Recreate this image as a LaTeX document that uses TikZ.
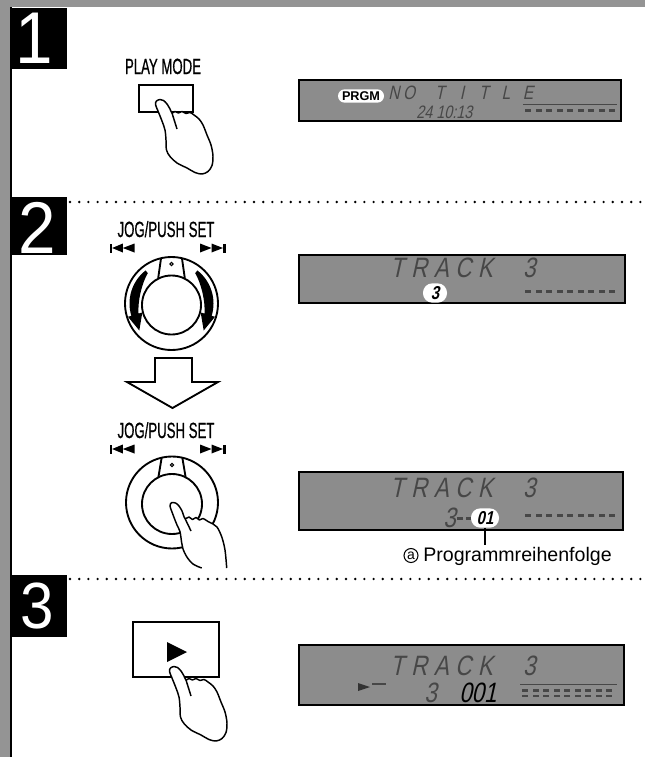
\documentclass[tikz,border=0pt]{standalone}
\usepackage{fontspec}
\setmainfont{Liberation Sans}
\newfontfamily\condfont{Liberation Sans}[FakeStretch=0.6,FakeBold=0.6]
\newfontfamily\numfont{Liberation Sans}[FakeStretch=0.92]
\newfontfamily\lcdfont{Liberation Sans}[FakeStretch=0.8,FakeSlant=0.22]
\usetikzlibrary{calc}

% fixed-width character cell for the LCD read-outs
\newlength\lcdw
\setlength\lcdw{16.5pt}
\newcommand\lc[1]{\makebox[\lcdw][c]{#1}}
\newcommand\lcn[1]{\makebox[11.5pt][c]{#1}}

\begin{document}
\begin{tikzpicture}[x=0.75pt,y=-0.75pt,
  frameband/.style={fill=black!42},
  stepbox/.style={fill=black},
  stepnum/.style={text=white,font=\numfont\fontsize{55}{55}\selectfont,inner sep=0pt,anchor=base},
  caption/.style={font=\condfont\fontsize{16.5}{16.5}\selectfont,inner sep=0pt,anchor=base},
  dotline/.style={line width=2pt,line cap=round,dash pattern=on 0pt off 6.9pt},
  ink/.style={draw=black,line width=1.4pt},
  keyframe/.style={draw=black,line width=1.5pt,fill=white},
  hand/.style={draw=black,line width=1.1pt,fill=white,line join=round},
  lcd/.style={draw=black,line width=1.2pt,fill=black!45},
  seg/.style={font=\lcdfont\fontsize{21}{21}\selectfont,text=black!72,inner sep=0pt,anchor=base west},
  segsmall/.style={font=\lcdfont\fontsize{13.5}{13.5}\selectfont,text=black!72,inner sep=0pt,anchor=base west},
  pill/.style={fill=white,rounded corners=5pt,inner xsep=3pt,inner ysep=0pt,minimum height=10pt,
    font=\bfseries\fontsize{9.5}{9.5}\selectfont},
  bubble/.style={fill=white,rounded corners=7pt,inner sep=0pt,minimum width=18pt,minimum height=14.5pt,
    font=\lcdfont\bfseries\fontsize{14}{14}\selectfont},
  tick/.style={fill=black!72},
  pics/pressinghand/.style={code={
    \draw[hand] plot[smooth cycle,tension=0.55] coordinates{
      (0,-0.5) (3.5,0.5) (7,4) (10,9) (12,13) (15,11.5) (18.5,13) (22,11.5) (26,13.5)
      (30,12.5) (34,15) (39,19) (43,25) (47,35) (51,45) (53,56) (52,65.5) (48,71.5)
      (42,74) (35,72.5) (27,68) (17,63) (10,56.5) (6.5,50) (6,40) (5,30) (2,21)
      (-2,11) (-4.5,4.5) (-3.5,1)};
    \draw[hand,fill=none] (12,13) -- (17,29);
  }},
  pics/openhand/.style={code={
    \draw[hand] plot[smooth,tension=0.55] coordinates{
      (28.7,65) (20,61) (13.7,53.7) (10,46) (8.7,40) (7,28.7) (4,22) (2,17) (-1,9)
      (-3,3) (-1.5,-0.3) (2.5,0) (6,3) (9,8) (12,15.5) (16,14) (19.5,16.5) (23,14.5)
      (26.5,17) (30,15.5) (35,18.5) (40,21) (44,24) (48.7,33.7) (52,47) (53.7,65)};
    \draw[hand,fill=none] (12,15.5) -- (18,28);
  }},
  pics/skipback/.style={code={
    \fill (0,0) rectangle (2.2,9);
    \fill (2.2,4.5) -- (12.8,0) -- (12.8,9) -- cycle;
    \fill (12.8,4.5) -- (24.5,0) -- (24.5,9) -- cycle;
  }},
  pics/skipfwd/.style={code={
    \fill (0,0) -- (11.5,4.5) -- (0,9) -- cycle;
    \fill (11.5,0) -- (23,4.5) -- (11.5,9) -- cycle;
    \fill (23,0) rectangle (25.5,9);
  }},
]
\useasboundingbox (0,0) rectangle (645,757);

% page frame bands
\fill[frameband] (0,0) rectangle (645,7);
\fill[frameband] (0,0) rectangle (11,757);
\draw[line width=0.8pt] (11,7) -- (11,757);

% step markers
\fill[stepbox] (12,8) rectangle (67,69);
\fill[stepbox] (12,197) rectangle (67,255);
\fill[stepbox] (12,575) rectangle (67,637);
\node[stepnum] (s1) at (34,63) {1};
\node[stepnum] (s2) at (37.5,253) {2};
\node[stepnum,font=\numfont\fontsize{49}{49}\selectfont] (s3) at (37.5,628) {3};

% separators
\draw[dotline] (70,202) -- (645,202);
\draw[dotline] (70,579) -- (645,579);

% ---------- step 1 ----------
\node[caption] (pm) at (163,74) {PLAY MODE};
\draw[keyframe] (139,85) rectangle (193,112);
\pic at (160,100) {pressinghand};

\draw[lcd] (299,80) rectangle (621,121);
\node[pill] (prgm) at (361,96) {PRGM};
\node[seg,font=\lcdfont\fontsize{14.5}{14.5}\selectfont] (t1) at (386,99)
  {\lcn{N}\lcn{O}\hspace{9pt}\lc{T}\lc{I}\lc{T}\lc{L}\lc{E}};
\node[segsmall] (clk) at (416,118) {24 10:13};
\draw[black!72,line width=0.6pt] (523,104) -- (617,104);
\foreach \i in {0,...,8} \fill[tick] (525+10.5*\i,109) rectangle ++(6,2.5);

% ---------- step 2, turning ----------
\node[caption] (jog1) at (166,237) {JOG/PUSH SET};
\pic at (110,243.5) {skipback};
\pic at (200,243.5) {skipfwd};

\coordinate (d1) at (171.5,303.5);
\coordinate (d1i) at (171.5,305);
\draw[ink] (d1) circle[radius=46.5];
\draw[ink] (d1i) circle[radius=29.5];
\draw[ink] ($(d1)+(257:46.5)$) -- ($(d1i)+(243:29.5)$);
\draw[ink] ($(d1)+(283:46.5)$) -- ($(d1i)+(297:29.5)$);
\draw[line width=0.8pt] (171.5,264) circle[radius=1.6];
% rotation arrows inside the ring
\fill ($(d1)+(232:42)$) arc[start angle=232,end angle=163,radius=42]
  -- ($(d1)+(163:45.5)$) -- ($(d1)+(140:42)$) -- ($(d1)+(163:30.5)$) -- ($(d1)+(163:34.5)$)
  .. controls ($(d1)+(185:34)$) and ($(d1)+(215:36)$) .. ($(d1)+(232:38.5)$) -- cycle;
\fill ($(d1)+(-52:42)$) arc[start angle=-52,end angle=17,radius=42]
  -- ($(d1)+(17:45.5)$) -- ($(d1)+(40:42)$) -- ($(d1)+(17:30.5)$) -- ($(d1)+(17:34.5)$)
  .. controls ($(d1)+(-5:34)$) and ($(d1)+(-35:36)$) .. ($(d1)+(-52:38.5)$) -- cycle;

\draw[lcd] (299,255) rectangle (625,303);
\node[seg] (t2) at (386,277) {\lc{T}\lc{R}\lc{A}\lc{C}\lc{K}\lc{}\lc{3}};
\node[bubble] (sel) at (435,293) {3};
\foreach \i in {0,...,8} \fill[tick] (525+10.5*\i,290) rectangle ++(6,2.5);

% block arrow between the two dial views
\draw[ink,fill=white] (155,358) -- (192,358) -- (192,382) -- (218,382) -- (172.5,408)
  -- (127,382) -- (155,382) -- cycle;

% ---------- step 2, pressing ----------
\node[caption] (jog2) at (166,438) {JOG/PUSH SET};
\pic at (110,444.5) {skipback};
\pic at (200,444.5) {skipfwd};

\coordinate (d2) at (172,502.5);
\coordinate (d2i) at (172,504);
\draw[ink] (d2) circle[radius=46];
\draw[ink] (d2i) circle[radius=30];
\draw[ink] ($(d2)+(257:46)$) -- ($(d2i)+(243:30)$);
\draw[ink] ($(d2)+(283:46)$) -- ($(d2i)+(297:30)$);
\draw[line width=0.8pt] (172,465) circle[radius=1.6];
\pic at (173,503) {openhand};

\draw[lcd] (299,472) rectangle (623,530);
\node[seg] (t3) at (386,497) {\lc{T}\lc{R}\lc{A}\lc{C}\lc{K}\lc{}\lc{3}};
\node[seg] (n3) at (443,527) {3};
\fill[tick] (457,517) rectangle (463,519.5);
\fill[tick] (466,517) rectangle (472,519.5);
\node[bubble,minimum width=21pt] (ord) at (485,518) {01};
\foreach \i in {0,...,8} \fill[tick] (525+10.5*\i,514) rectangle ++(6,2.5);

% callout: programme order
\coordinate (ordtick) at (485,545);
\draw[line width=1.1pt] (ord.south) -- (ordtick);
\node[circle,draw,line width=0.8pt,minimum size=10.5pt,inner sep=0pt,
  font=\fontsize{10.5}{10.5}\selectfont] (mark) at (411,555.5) {a};
\node[anchor=base west,inner sep=0pt,font=\fontsize{14.7}{16}\selectfont] (lbl) at (423,561)
  {Programmreihenfolge};

% ---------- step 3 ----------
\draw[keyframe] (133,622) rectangle (219,677);
\fill (167,642) -- (187,652) -- (167,662) -- cycle;
\pic at (174,667) {pressinghand};

\draw[lcd] (299,645) rectangle (624,705);
\node[seg] (t4) at (386,675) {\lc{T}\lc{R}\lc{A}\lc{C}\lc{K}\lc{}\lc{3}};
\fill[black!80] (358,683) -- (370,687) -- (358,691) -- cycle;
\draw[black!72,line width=0.8pt] (372,684) -- (386,684);
\node[seg] (n4) at (424,702) {3};
\node[seg,text=black] (cnt) at (459,702) {001};
\draw[black!72,line width=0.6pt] (520,684) -- (617,684);
\foreach \i in {0,...,8} \fill[tick] (522+10.5*\i,689) rectangle ++(6,2.5);
\foreach \i in {0,...,8} \fill[tick] (522+10.5*\i,695) rectangle ++(6,2);
\end{tikzpicture}
\end{document}
